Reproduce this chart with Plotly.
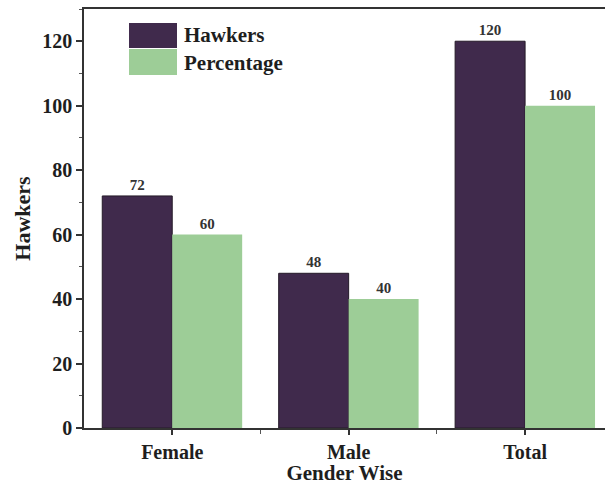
import plotly.graph_objects as go

# Hawker counts by gender, with each group's share of the total
categories = ["Female", "Male", "Total"]
hawkers = [72, 48, 120]
percentage = [60, 40, 100]

series_names = ["Hawkers", "Percentage"]
series_colors = ["#402a4c", "#9dcd97"]

positions = list(range(len(categories)))
boundaries = [i + 0.5 for i in positions[:-1]]

serif = "Liberation Serif"
ink = "#1e1e1e"

fig = go.Figure()
fig.add_trace(go.Bar(
    x=positions, y=hawkers, name=series_names[0],
    marker=dict(color=series_colors[0], line=dict(color="#241a28", width=1)),
    text=hawkers, texttemplate="%{y}", textposition="outside",
    textfont=dict(family=serif, size=15, color="#333"),
    cliponaxis=False,
))
fig.add_trace(go.Bar(
    x=positions, y=percentage, name=series_names[1],
    marker=dict(color=series_colors[1], line=dict(width=0)),
    text=percentage, texttemplate="%{y}", textposition="outside",
    textfont=dict(family=serif, size=15, color="#333"),
    cliponaxis=False,
))

fig.update_layout(
    width=605, height=485,
    margin=dict(l=84, r=0, t=9, b=57),
    paper_bgcolor="white", plot_bgcolor="white",
    barmode="group", bargap=0.207, bargroupgap=0,
    showlegend=False,
    font=dict(family=serif, color=ink),
)

fig.update_xaxes(
    range=[-0.5, 2.453],
    tickmode="array", tickvals=positions,
    ticktext=[f"<b>{c}</b>" for c in categories],
    tickfont=dict(family=serif, size=20, color=ink),
    ticks="outside", ticklen=5, tickwidth=1.5, tickcolor="#333",
    minor=dict(tickmode="array", tickvals=boundaries, ticks="outside",
               ticklen=4, tickwidth=1, tickcolor="#555"),
    showline=True, linecolor="#333", linewidth=1.5, mirror=True,
    showgrid=False, zeroline=False,
    title=dict(text="<b>Gender Wise</b>", font=dict(family=serif, size=21, color=ink),
               standoff=2),
)

fig.update_yaxes(
    range=[0, 130], dtick=20, tick0=0,
    tickfont=dict(family=serif, size=20, color=ink),
    tickprefix="<b>", ticksuffix="</b>",
    ticks="outside", ticklen=6, tickwidth=1.5, tickcolor="#333",
    minor=dict(dtick=10, ticks="outside", ticklen=3, tickwidth=1, tickcolor="#555"),
    showline=True, linecolor="#333", linewidth=1.5,
    showgrid=False, zeroline=False,
    title=dict(text="<b>Hawkers</b>", font=dict(family=serif, size=22, color=ink),
               standoff=6),
)

# Legend drawn in the upper-left corner of the plot area
swatches = [(0.9666, 0.9069), (0.9045, 0.8425)]
label_y = [0.938, 0.871]
for name, color, (y_top, y_bot), ly in zip(series_names, series_colors, swatches, label_y):
    fig.add_shape(type="rect", xref="paper", yref="paper",
                  x0=0.0864, x1=0.1785, y0=y_bot, y1=y_top,
                  fillcolor=color, line=dict(width=0), layer="above")
    fig.add_annotation(xref="paper", yref="paper", x=0.188, y=ly,
                       xanchor="left", yanchor="middle", showarrow=False,
                       text=f"<b>{name}</b>", font=dict(family=serif, size=21, color=ink))

fig.write_html("out.html")
